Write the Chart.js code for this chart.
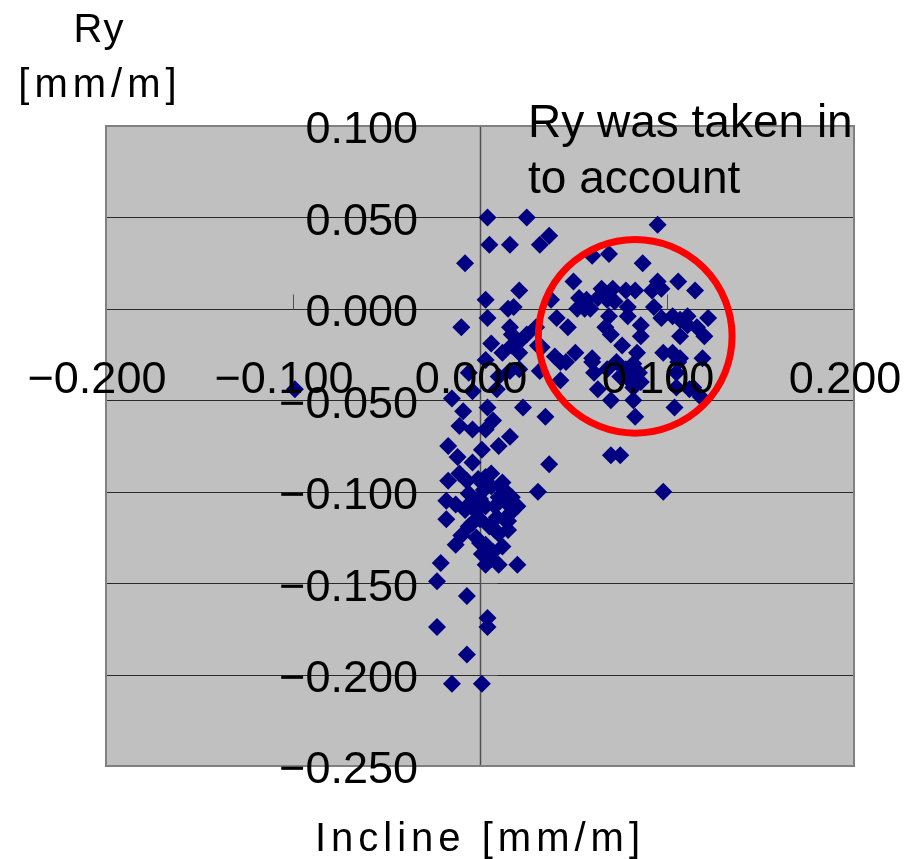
<!DOCTYPE html>
<html>
<head>
<meta charset="utf-8">
<title>Ry vs Incline</title>
<script src="https://cdn.jsdelivr.net/npm/chart.js@4.4.0/dist/chart.umd.min.js"></script>
<style>
  html, body { margin: 0; padding: 0; background: #fff; }
  canvas { display: block; }
</style>
</head>
<body>
<canvas id="chart" width="906" height="859"></canvas>
<script>
// measured points: incline (x) and Ry (y), both in mm/m
const inclineValues = [
  0.004, 0.025, 0.037, 0.032, 0.005, 0.016, -0.008, 0.021, 0.003, 0.015,
  0.018, 0.004, -0.010, 0.016, 0.017, 0.021, 0.006, 0.030, 0.031, 0.038,
  0.041, 0.012, 0.021, 0.017, 0.003, 0.016, -0.006, -0.004, 0.009, -0.015,
  0.033, 0.032, 0.023, 0.035, -0.009, 0.004, 0.007, -0.011, -0.004, 0.003,
  0.016, 0.010, -0.017, -0.012, 0.001, -0.004, 0.037, -0.011, 0.003, -0.017,
  -0.007, 0.006, 0.031, -0.018, -0.013, -0.006, 0.000, 0.010, 0.015, 0.003,
  -0.002, 0.017, -0.018, -0.006, 0.005, 0.015, 0.009, -0.002, -0.013, 0.003,
  0.012, 0.001, -0.021, 0.003, 0.010, 0.020, 0.006, -0.023, -0.007, 0.004,
  0.004, -0.023, -0.007, -0.015, 0.001, 0.000, 0.008, -0.008, 0.002, 0.013,
  -0.001, 0.010, -0.010, -0.006, 0.017, 0.010, 0.021, 0.025, -0.099,
  0.006, 0.012, 0.013, -0.004, 0.008, 0.020, 0.015, 0.000, 0.007,
  0.095, 0.060, 0.069, 0.087, 0.050, 0.095, 0.106, 0.115, 0.065, 0.071,
  0.078, 0.083, 0.092, 0.097, 0.053, 0.057, 0.063, 0.068, 0.072, 0.052,
  0.059, 0.079, 0.093, 0.047, 0.069, 0.079, 0.067, 0.070, 0.086, 0.086,
  0.097, 0.103, 0.107, 0.111, 0.111, 0.116, 0.122, 0.107, 0.120, 0.076,
  0.084, 0.098, 0.051, 0.040, 0.060, 0.107, 0.119, 0.043, 0.046, 0.060,
  0.061, 0.068, 0.082, 0.085, 0.106, 0.105, 0.043, 0.063, 0.080, 0.086,
  0.112, 0.070, 0.082, 0.118, 0.104, 0.083, 0.070, 0.075, 0.098, 0.114,
  0.073, 0.075, 0.103, 0.056, 0.078, 0.082, 0.105
];
const ryValues = [
  0.050, 0.050, 0.040, 0.035, 0.035, 0.035, 0.025, 0.010, 0.005, 0.000,
  0.001, -0.005, -0.010, -0.010, -0.014, -0.018, -0.019, -0.010, -0.020, 0.005,
  -0.005, -0.024, -0.024, -0.020, -0.028, -0.034, -0.035, -0.045, -0.044, -0.049,
  -0.021, -0.034, -0.054, -0.059, -0.056, -0.054, -0.061, -0.064, -0.066, -0.066,
  -0.070, -0.075, -0.075, -0.081, -0.077, -0.084, -0.085, -0.090, -0.092, -0.094,
  -0.094, -0.097, -0.100, -0.105, -0.107, -0.101, -0.104, -0.103, -0.107, -0.108,
  -0.111, -0.111, -0.115, -0.119, -0.119, -0.116, -0.114, -0.125, -0.129, -0.129,
  -0.130, -0.134, -0.139, -0.140, -0.140, -0.140, -0.137, -0.149, -0.157, -0.169,
  -0.174, -0.174, -0.189, -0.205, -0.205, -0.115, -0.121, -0.110, -0.099, -0.099,
  -0.093, -0.123, -0.124, -0.107, -0.103, -0.037, -0.033, -0.014, -0.044,
  -0.090, -0.095, -0.115, -0.117, -0.108, -0.108, -0.121, -0.128, -0.133,
  0.046, 0.029, 0.030, 0.025, 0.015, 0.015, 0.015, 0.010, 0.011, 0.011,
  0.010, 0.010, 0.010, 0.011, 0.006, 0.005, 0.006, 0.005, 0.004, 0.000,
  0.000, 0.001, 0.001, -0.010, -0.004, -0.004, -0.010, -0.014, -0.009, -0.015,
  -0.005, -0.004, -0.006, -0.004, -0.009, -0.010, -0.005, -0.015, -0.015, -0.020,
  -0.024, -0.024, -0.024, -0.026, -0.027, -0.027, -0.027, -0.029, -0.029, -0.029,
  -0.035, -0.033, -0.030, -0.035, -0.029, -0.035, -0.039, -0.044, -0.039, -0.040,
  -0.044, -0.050, -0.050, -0.048, -0.054, -0.059, -0.080, -0.080, -0.100, -0.043,
  -0.029, -0.037, -0.024, 0.000, -0.033, -0.043, -0.043
];

const xTicks = [-0.2, -0.1, 0, 0.1, 0.2];
const yTicks = [0.1, 0.05, 0, -0.05, -0.1, -0.15, -0.2, -0.25];
const xTitle = 'Incline [mm/m]';
const yTitle = ['Ry', '[mm/m]'];
const noteLines = ['Ry was taken in', 'to account'];
// highlighted group, centre and radius in axis units
const noteCircle = { x: 0.083, y: -0.015, r: 0.0518 };

const points = inclineValues.map((v, i) => ({ x: v, y: ryValues[i] }));

function fmt(v) {
  const s = Math.abs(v).toFixed(3);
  return v < -1e-9 ? '\u2212' + s : s;
}

const numFont = '45px "Liberation Sans", Arial, sans-serif';
const titleFont = '40px "Liberation Sans", Arial, sans-serif';

const frame = {
  id: 'frame',
  beforeDatasetsDraw(chart) {
    const { ctx, chartArea: a, scales: { x, y } } = chart;
    ctx.save();
    ctx.fillStyle = '#c0c0c0';
    ctx.fillRect(a.left, a.top, a.right - a.left, a.bottom - a.top);

    // horizontal grid
    ctx.strokeStyle = '#2a2a2a';
    ctx.lineWidth = 1;
    yTicks.forEach(t => {
      const py = Math.round(y.getPixelForValue(t)) + 0.5;
      ctx.beginPath();
      ctx.moveTo(a.left, py);
      ctx.lineTo(a.right, py);
      ctx.stroke();
    });

    // axes cross at zero
    const x0 = Math.round(x.getPixelForValue(0)) + 0.5;
    const y0 = Math.round(y.getPixelForValue(0)) + 0.5;
    ctx.strokeStyle = '#505050';
    ctx.lineWidth = 1.5;
    ctx.beginPath();
    ctx.moveTo(x0, a.top);
    ctx.lineTo(x0, a.bottom);
    ctx.stroke();
    ctx.lineWidth = 1;
    yTicks.forEach(t => {
      const py = Math.round(y.getPixelForValue(t)) + 0.5;
      ctx.beginPath();
      ctx.moveTo(x0, py);
      ctx.lineTo(x0 + 17, py);
      ctx.stroke();
    });
    xTicks.forEach(t => {
      const px = Math.round(x.getPixelForValue(t)) + 0.5;
      ctx.beginPath();
      ctx.moveTo(px, y0);
      ctx.lineTo(px, y0 - 15);
      ctx.stroke();
    });
    ctx.restore();
  },
  afterDatasetsDraw(chart) {
    const { ctx, chartArea: a, scales: { x, y } } = chart;
    ctx.save();

    // plot border
    ctx.strokeStyle = '#808080';
    ctx.lineWidth = 2;
    ctx.strokeRect(a.left, a.top, a.right - a.left, a.bottom - a.top);

    const x0 = x.getPixelForValue(0);
    const y0 = y.getPixelForValue(0);

    ctx.fillStyle = '#000';
    ctx.font = numFont;
    ctx.textBaseline = 'middle';
    ctx.textAlign = 'right';
    yTicks.forEach(t => {
      ctx.fillText(fmt(t), x0 - 62, y.getPixelForValue(t) + 5);
    });
    ctx.textAlign = 'center';
    xTicks.forEach(t => {
      ctx.fillText(fmt(t), x.getPixelForValue(t) - 9, y0 + 72);
    });

    // circled group
    const cx = x.getPixelForValue(noteCircle.x);
    const cy = y.getPixelForValue(noteCircle.y);
    const r = x.getPixelForValue(noteCircle.x + noteCircle.r) - cx;
    ctx.strokeStyle = '#ff0000';
    ctx.lineWidth = 7;
    ctx.beginPath();
    ctx.arc(cx, cy, r, 0, Math.PI * 2);
    ctx.stroke();

    // note text
    ctx.font = '46px "Liberation Sans", Arial, sans-serif';
    ctx.textAlign = 'left';
    ctx.textBaseline = 'alphabetic';
    ctx.fillText(noteLines[0], 528, 137);
    ctx.fillText(noteLines[1], 528, 193);

    // axis titles
    ctx.font = titleFont;
    ctx.textAlign = 'center';
    ctx.letterSpacing = '1px';
    ctx.fillText(yTitle[0], 99, 42);
    ctx.letterSpacing = '5px';
    ctx.fillText(yTitle[1], 100, 97);
    ctx.fillText(xTitle, 480, 851);
    ctx.restore();
  }
};

new Chart(document.getElementById('chart'), {
  type: 'scatter',
  data: {
    datasets: [{
      data: points,
      pointStyle: 'rectRot',
      pointRadius: 9,
      pointBorderWidth: 0,
      backgroundColor: '#000080',
      borderColor: '#000080'
    }]
  },
  options: {
    responsive: false,
    animation: false,
    devicePixelRatio: 1,
    layout: { padding: { left: 106, top: 126, right: 52, bottom: 93 } },
    plugins: {
      legend: { display: false },
      tooltip: { enabled: false }
    },
    scales: {
      x: { type: 'linear', min: -0.2, max: 0.2, display: false },
      y: { type: 'linear', min: -0.25, max: 0.1, display: false }
    }
  },
  plugins: [frame]
});
</script>
</body>
</html>
